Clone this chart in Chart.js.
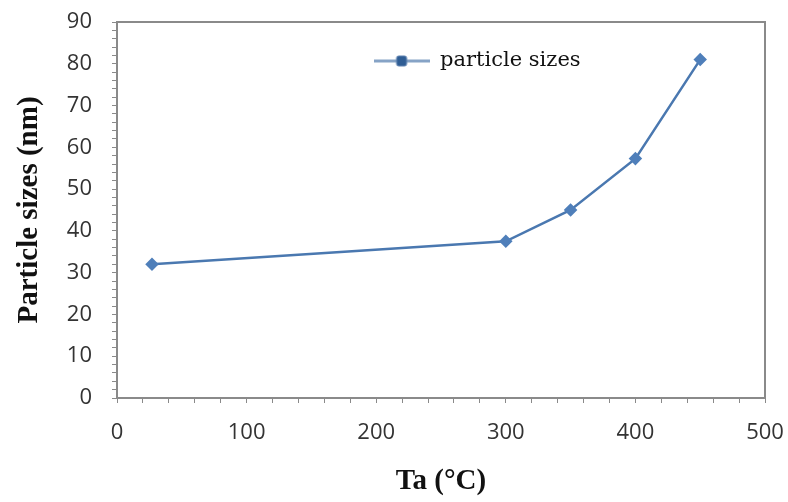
<!DOCTYPE html>
<html>
<head>
<meta charset="utf-8">
<script src="https://cdn.jsdelivr.net/npm/chart.js@4/dist/chart.umd.min.js"></script>
<style>
  html, body { margin: 0; padding: 0; background: #ffffff; }
  #wrap { width: 788px; height: 502px; }
</style>
</head>
<body>
<div id="wrap"><canvas id="c" width="788" height="502"></canvas></div>
<script>
// ---- data ----
const temperatures = [27, 300, 350, 400, 450];          // Ta (°C)
const particleSizes = [32, 37.5, 45, 57.3, 81];          // nm
const seriesName = 'particle sizes';
const xTitle = 'Ta (°C)';
const yTitle = 'Particle sizes (nm)';
const xTickLabels = [0, 100, 200, 300, 400, 500];
const yTickLabels = [0, 10, 20, 30, 40, 50, 60, 70, 80, 90];

// ---- styles ----
const lineColor = '#4a78b0';
const markerColor = '#4f7fba';
const axisColor = '#8a8a8a';
const tickFont = { family: 'Open Sans', size: 22 };
const titleFont = { family: 'Liberation Serif', size: 29, weight: 'bold' };
const legendFont = { family: 'DejaVu Serif', size: 21 };

function legendMarker() {
  const c = document.createElement('canvas');
  c.width = 56; c.height = 14;
  const g = c.getContext('2d');
  g.strokeStyle = '#86a3c6';
  g.lineWidth = 3;
  g.beginPath(); g.moveTo(0, 7); g.lineTo(56, 7); g.stroke();
  g.fillStyle = '#2f5d94';
  g.strokeStyle = '#5f82b0';
  g.lineWidth = 1;
  g.beginPath();
  g.roundRect(23, 2, 10, 10, 2);
  g.fill(); g.stroke();
  return c;
}
const marker = legendMarker();

const plotFrame = {
  id: 'plotFrame',
  beforeDatasetsDraw(chart) {
    const { ctx, chartArea: a } = chart;
    ctx.save();
    ctx.strokeStyle = axisColor;
    ctx.lineWidth = 2;
    ctx.strokeRect(a.left, a.top, a.right - a.left, a.bottom - a.top);
    ctx.restore();
  }
};

const legendPlacer = {
  id: 'legendPlacer',
  afterLayout(chart) {
    const lg = chart.legend;
    const a = chart.chartArea;
    if (!lg) return;
    lg.left = a.left + (a.right - a.left) * 0.396;
    lg.top = a.top + 28.5;
    lg.right = a.right;
    lg.bottom = a.bottom;
  }
};

new Chart(document.getElementById('c'), {
  type: 'line',
  data: {
    datasets: [{
      label: seriesName,
      data: temperatures.map((t, i) => ({ x: t, y: particleSizes[i] })),
      borderColor: lineColor,
      borderWidth: 2.5,
      pointStyle: 'rectRot',
      pointRadius: 5,
      pointBackgroundColor: markerColor,
      pointBorderColor: markerColor,
      tension: 0,
      fill: false
    }]
  },
  options: {
    responsive: false,
    animation: false,
    layout: { padding: { top: 22, right: 23, left: 0, bottom: 0 } },
    plugins: {
      legend: {
        position: 'chartArea',
        align: 'start',
        labels: {
          usePointStyle: true,
          pointStyleWidth: 56,
          padding: 0,
          font: legendFont,
          color: '#111',
          generateLabels: () => [{
            text: seriesName,
            pointStyle: marker,
            fillStyle: markerColor,
            strokeStyle: markerColor,
            lineWidth: 0,
            datasetIndex: 0,
            fontColor: '#111'
          }]
        }
      },
      tooltip: { enabled: false }
    },
    scales: {
      x: {
        type: 'linear',
        min: 0, max: 500,
        afterFit(s) { s.height = 104; s.paddingRight = 0; s.paddingLeft = 0; },
        border: { display: false },
        grid: { drawOnChartArea: false, drawTicks: true, tickLength: 5, tickColor: axisColor, tickWidth: 1 },
        ticks: {
          stepSize: 20,
          autoSkip: false,
          maxRotation: 0,
          padding: 17,
          color: '#333',
          font: tickFont,
          callback: v => xTickLabels.includes(v) ? String(v) : ''
        },
        title: { display: true, text: xTitle, font: titleFont, color: '#111', padding: { top: 0, bottom: 3 } }
      },
      y: {
        min: 0, max: 90,
        afterFit(s) { s.width = 117; s.paddingTop = 0; s.paddingBottom = 0; },
        border: { display: false },
        grid: { drawOnChartArea: false, drawTicks: true, tickLength: 5, tickColor: axisColor, tickWidth: 1 },
        ticks: {
          stepSize: 2,
          autoSkip: false,
          padding: 20,
          color: '#333',
          font: tickFont,
          callback: v => yTickLabels.includes(v) ? String(v) : ''
        },
        title: { display: true, text: yTitle, font: titleFont, color: '#111', padding: { top: 12, bottom: 0 } }
      }
    }
  },
  plugins: [plotFrame, legendPlacer]
});
</script>
</body>
</html>
